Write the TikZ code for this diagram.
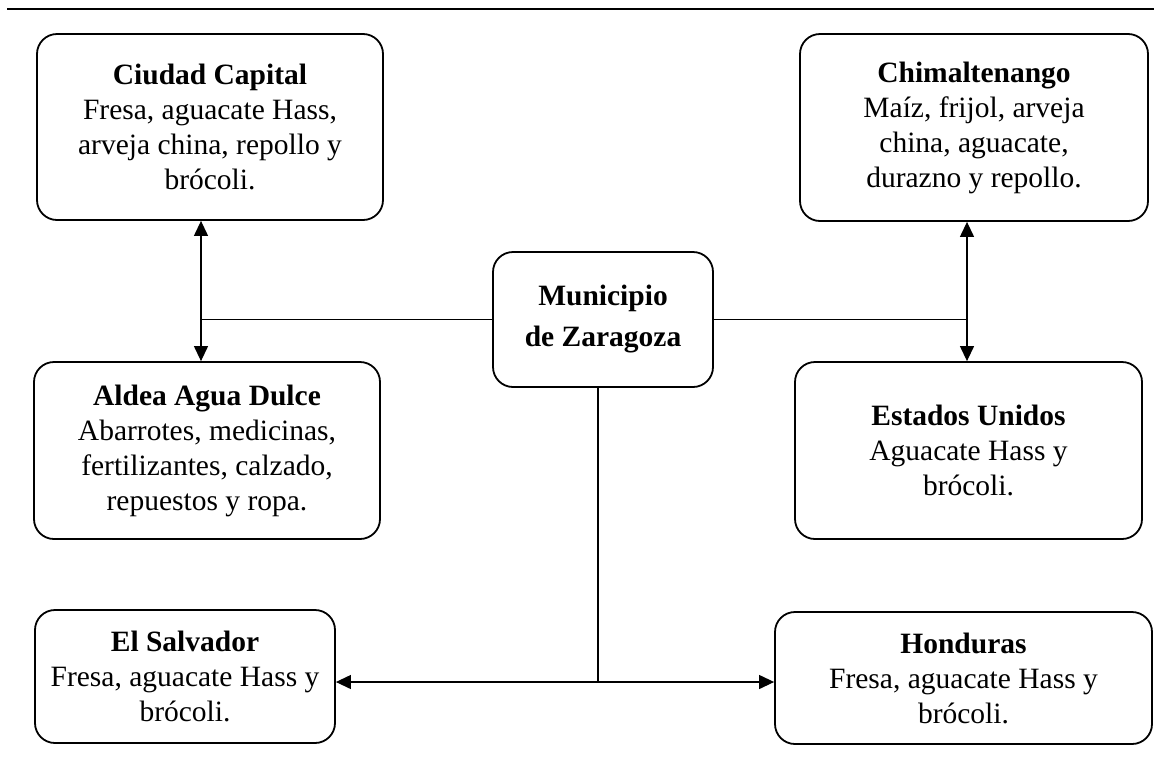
\documentclass[tikz,border=0pt]{standalone}
\usepackage{fontspec}
\setmainfont{Liberation Serif}
\usetikzlibrary{arrows.meta,calc}
\begin{document}
\begin{tikzpicture}[x=1pt,y=-1pt,
  box/.style={draw,line width=1.8pt,rounded corners=20pt,align=center,inner sep=0pt,
    font=\fontsize{29.5}{35}\selectfont},
  conn/.style={line width=1.2pt},
  arr/.style={conn,-{Triangle[length=15pt,width=14pt]}},
  biarr/.style={conn,{Triangle[length=15pt,width=14pt]}-{Triangle[length=15pt,width=14pt]}}]
\useasboundingbox (0,0) rectangle (1154,769);
\coordinate (tl) at (7,9);
\coordinate (tr) at (1154,9);
\draw[line width=1.2pt] (tl) -- (tr);

\node[box,minimum width=346pt,minimum height=186pt] (cc) at (210,127)
  {\textbf{Ciudad Capital}\\Fresa, aguacate Hass,\\arveja china, repollo y\\brócoli.};
\node[box,minimum width=348pt,minimum height=187pt] (ch) at (974,127.5)
  {\textbf{Chimaltenango}\\Maíz, frijol, arveja\\china, aguacate,\\durazno y repollo.};
\node[box,minimum width=220pt,minimum height=135pt,font=\fontsize{29.5}{41}\selectfont] (mz) at (603,319.5)
  {\textbf{Municipio}\\\textbf{de Zaragoza}};
\node[box,minimum width=346pt,minimum height=177pt] (ad) at (207,450.5)
  {\textbf{Aldea Agua Dulce}\\Abarrotes, medicinas,\\fertilizantes, calzado,\\repuestos y ropa.};
\node[box,minimum width=347pt,minimum height=177pt] (eu) at (968.5,450.5)
  {\textbf{Estados Unidos}\\Aguacate Hass y\\brócoli.};
\node[box,minimum width=300pt,minimum height=133pt] (es) at (185,676.5)
  {\textbf{El Salvador}\\Fresa, aguacate Hass y\\brócoli.};
\node[box,minimum width=377pt,minimum height=132pt] (ho) at (963.5,678)
  {\textbf{Honduras}\\Fresa, aguacate Hass y\\brócoli.};

\coordinate (lx) at (201,0);
\coordinate (rx) at (967,0);
\coordinate (bx) at (598,682);
\draw[biarr] (lx |- cc.south) -- (lx |- ad.north);
\draw[conn] (mz.west) -- (mz.west -| lx);
\draw[biarr] (rx |- ch.south) -- (rx |- eu.north);
\draw[conn] (mz.east) -- (mz.east -| rx);
\draw[conn] (bx |- mz.south) -- (bx);
\draw[arr] (bx) -- (bx -| es.east);
\draw[arr] (bx) -- (bx -| ho.west);
\end{tikzpicture}
\end{document}
